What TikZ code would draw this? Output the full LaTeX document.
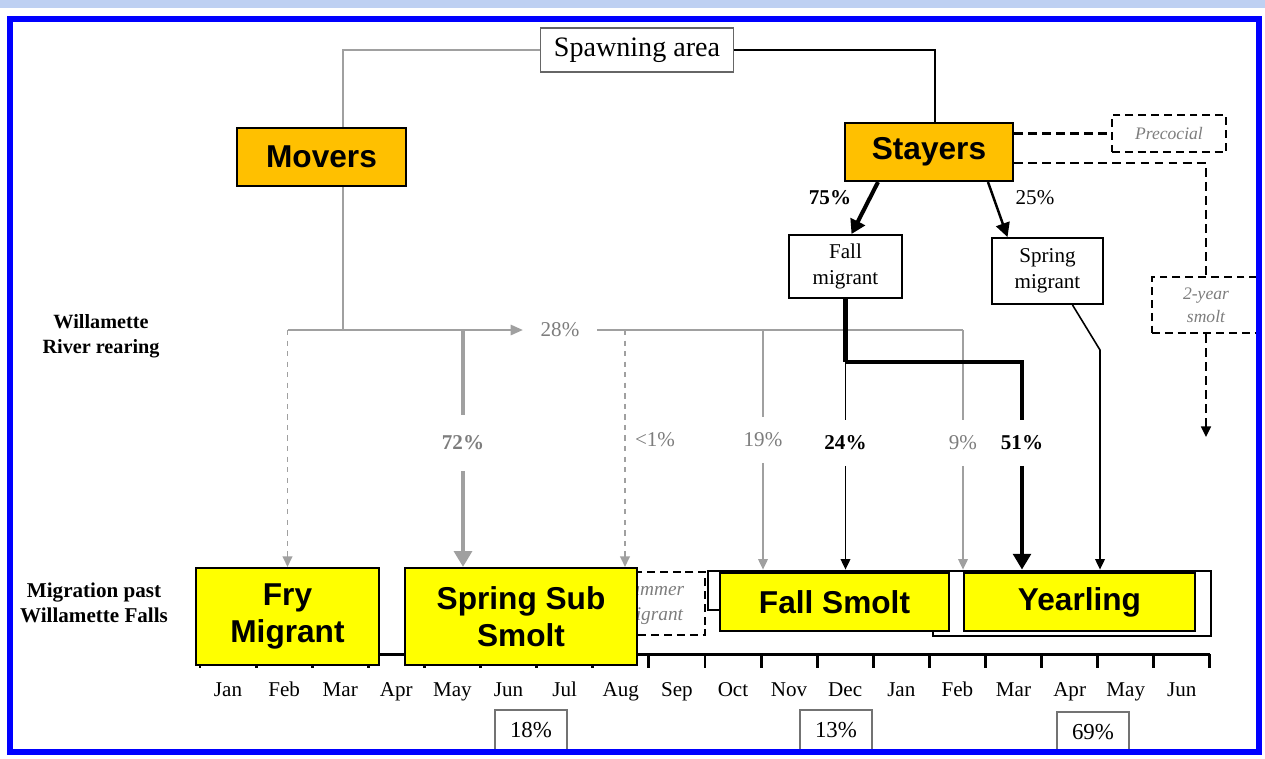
\documentclass[tikz,border=0pt]{standalone}
\usepackage{fontspec}
\setmainfont{Liberation Serif}
\setsansfont{Liberation Sans}
\usetikzlibrary{positioning, arrows.meta, calc, backgrounds}
\definecolor{stripblue}{RGB}{190, 208, 242}
\definecolor{frameblue}{RGB}{0, 0, 255}
\definecolor{phaseorange}{RGB}{255, 192, 0}
\definecolor{stageyellow}{RGB}{255, 255, 0}
\definecolor{flowgray}{RGB}{160, 160, 160}
\definecolor{textgray}{RGB}{125, 125, 125}
\newcommand{\fsz}[2]{\fontsize{#1}{#2}\selectfont}

\begin{document}
\begin{tikzpicture}[x=0.02cm, y=-0.02cm,
    every node/.style={align=center, inner sep=0pt, font=\fsz{12}{14.5}},
    phase/.style={draw, line width=1.2pt, fill=phaseorange, font=\sffamily\bfseries\fsz{18}{21}},
    stagebox/.style={draw, line width=1.2pt, fill=stageyellow, font=\sffamily\bfseries\fsz{18}{21}},
    barbox/.style={draw, line width=1.6pt, fill=white},
    habit/.style={draw, line width=1.1pt, fill=white},
    dashbox/.style={draw, dashed, line width=1.2pt, dash pattern=on 4.5pt off 2.8pt, fill=white, text=textgray, font=\itshape\fsz{10}{13}},
    pctbox/.style={draw=black!55, line width=0.6pt, fill=white, minimum width=1.44cm, minimum height=0.8cm, font=\fsz{13}{15}},
    gap/.style={minimum height=0.9cm},
    month/.style={anchor=base, font=\fsz{12}{14}},
    side/.style={font=\bfseries\fsz{11.5}{14.5}},
    grayflow/.style={draw=flowgray, line width=0.9pt},
    thinflow/.style={draw=black, line width=0.9pt},
    boldflow/.style={draw=black, line width=2.3pt},
    dashflow/.style={draw=black, line width=1.4pt, dash pattern=on 5pt off 3pt},
    smalltip/.style={-{Triangle[length=6pt, width=5.5pt]}},
    bigtip/.style={-{Triangle[length=9pt, width=10pt]}}]

  \useasboundingbox (0,0) rectangle (1265,758);

  % top part
  \node[draw=black!60, line width=0.6pt, fill=white, minimum width=3.86cm, minimum height=0.88cm, font=\fsz{16}{18}] (spawn) at (637,50) {Spawning area};
  \node[phase, minimum width=3.38cm, minimum height=1.16cm] (movers) at (321.5,157) {Movers};
  \node[phase, minimum width=3.36cm, minimum height=1.16cm] (stayers) at (929,152) {Stayers};
  \node[dashbox, minimum width=2.28cm, minimum height=0.74cm] (preco) at (1169,133.5) {Precocial};
  \node[dashbox, minimum width=2.16cm, minimum height=1.12cm] (twoyr) at (1206,305) {2-year\\smolt};
  \node[habit, minimum width=2.26cm, minimum height=1.26cm] (fallmig) at (845.5,266.5) {Fall\\migrant};
  \node[habit, minimum width=2.22cm, minimum height=1.32cm] (sprmig) at (1047.5,271) {Spring\\migrant};
  \node[font=\bfseries\fsz{12}{14}] (l75) at (830,198) {75\%};
  \node (l25) at (1035,198) {25\%};

  \node[side] (rearing) at (101,336) {Willamette\\River rearing};
  \node[side, font=\bfseries\fsz{12}{14.2}] (falls) at (94,603) {Migration past\\Willamette Falls};

  % percentages on the flows
  \node[text=textgray, inner xsep=0.35cm] (l28) at (560,330) {28\%};
  \node[gap, minimum height=1.1cm, text=textgray, font=\bfseries\fsz{12}{14}] (l72) at (463,443) {72\%};
  \node[text=textgray] (l1) at (655,440) {<1\%};
  \node[gap, text=textgray] (l19) at (763,440) {19\%};
  \node[gap, font=\bfseries\fsz{12}{14}] (l24) at (845.5,443) {24\%};
  \node[gap, text=textgray] (l9) at (963,443) {9\%};
  \node[gap, font=\bfseries\fsz{12}{14}] (l51) at (1022,443) {51\%};

  \coordinate (moverfork) at (343,330);
  \coordinate (fryfork) at (287.5,330);
  \coordinate (lessfork) at (625,330);
  \coordinate (ninefork) at (963,330);
  \coordinate (fallfork) at (845.5,362);
  \coordinate (sprbend) at (1100,350);
  \coordinate (twoend) at (1206,437);

  % bars and stages
  \node[dashbox, minimum width=2.1cm, minimum height=1.26cm, font=\itshape\fsz{11}{14}] (summer) at (652.5,603.5) {Summer\\migrant};
  \node[barbox, minimum width=4.8cm, minimum height=0.78cm] (fallbar) at (828,590.5) {};
  \node[barbox, minimum width=5.56cm, minimum height=1.3cm] (yearbar) at (1072,603.5) {};
  \node[stagebox, minimum width=3.66cm, minimum height=1.94cm] (fry) at (287.5,616.5) {Fry\\Migrant};
  \node[stagebox, minimum width=4.64cm, minimum height=1.94cm] (sss) at (521,616.5) {Spring Sub\\Smolt};
  \node[stagebox, minimum width=4.58cm, minimum height=1.16cm] (fallsmolt) at (834.5,602) {Fall Smolt};
  \node[stagebox, minimum width=4.62cm, minimum height=1.16cm] (yearling) at (1079.5,602) {Yearling};

  % months and totals
  \foreach \m [count=\i from 0] in {Jan,Feb,Mar,Apr,May,Jun,Jul,Aug,Sep,Oct,Nov,Dec,Jan,Feb,Mar,Apr,May,Jun}
    \node[month] (m\i) at ({228+56.11*\i},696) {\m};
  \node[pctbox] (p18) at (531,730) {18\%};
  \node[pctbox] (p13) at (836,730) {13\%};
  \node[pctbox] (p69) at (1093,732) {69\%};

  \begin{pgfonlayer}{background}
    \fill[stripblue] (0,0) rectangle (1265,8);
    % time axis
    \draw[line width=1.7pt] (200,654) -- (1210,654);
    \foreach \i in {0,...,18}
      \draw[line width=1.7pt] ({200+56.11*\i},654) -- ++(0,14);

    % from spawning area
    \draw[grayflow, line width=1.1pt] (spawn.west) -| (moverfork);
    \draw[thinflow, line width=1.1pt] (spawn.east) -| ($(stayers.north)+(6,0)$);

    % movers
    \draw[grayflow, -{Triangle[length=7pt, width=6pt]}] (fryfork) -- (l28.west);
    \draw[grayflow] (l28.east) -- (ninefork);
    \draw[grayflow, dashed, smalltip] (fryfork) -- (fry.north);
    \draw[grayflow, line width=2.3pt] (l72 |- fryfork) -- (l72.north);
    \draw[grayflow, line width=2.3pt, bigtip] (l72.south) -- (l72 |- sss.north);
    \draw[grayflow, dashed, smalltip] (lessfork) -- (lessfork |- sss.north);
    \draw[grayflow] (l19 |- lessfork) -- (l19.north);
    \draw[grayflow, smalltip] (l19.south) -- (l19 |- fallbar.north);
    \draw[grayflow] (ninefork) -- (l9.north);
    \draw[grayflow, smalltip] (l9.south) -- (l9 |- yearbar.north);

    % stayers
    \draw[dashflow] (stayers.east |- preco.west) -- (preco.west);
    \draw[dashflow] ($(stayers.east)+(0,11)$) -| (twoyr.north);
    \draw[dashflow, smalltip] (twoyr.south) -- (twoend);
    \draw[boldflow, -{Triangle[length=8pt, width=9pt]}] ($(stayers.south)+(-51,0)$) -- ($(fallmig.north)+(6,0)$);
    \draw[thinflow, line width=1.4pt, -{Triangle[length=8pt, width=8pt]}] ($(stayers.south)+(59,0)$) -- ($(sprmig.north)+(-40,0)$);
    \draw[boldflow] (fallmig.south) -- (fallfork);
    \draw[boldflow] (fallfork) -| (l51.north);
    \draw[boldflow, bigtip] (l51.south) -- (l51 |- yearbar.north);
    \draw[thinflow] (fallfork) -- (l24.north);
    \draw[thinflow, smalltip] (l24.south) -- (l24 |- fallbar.north);
    \draw[thinflow, smalltip] ($(sprmig.south)+(25,0)$) -- (sprbend) -- (sprbend |- yearbar.north);
  \end{pgfonlayer}

  % frame
  \draw[frameblue, line width=3.4pt] (10,19) rectangle (1259,752);
\end{tikzpicture}
\end{document}
